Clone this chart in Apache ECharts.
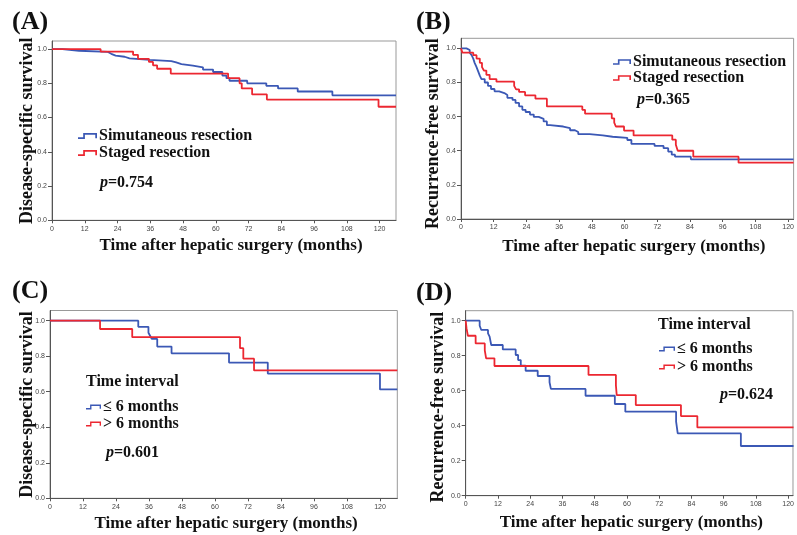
<!DOCTYPE html>
<html>
<head>
<meta charset="utf-8">
<script src="https://cdn.jsdelivr.net/npm/echarts@6/dist/echarts.min.js"></script>
<style>html,body{margin:0;padding:0;background:#fff}#c{width:797px;height:535px}</style>
</head>
<body>
<div id="c"></div>
<script>
// ---- tick labels ----
const xTicks = [0, 12, 24, 36, 48, 60, 72, 84, 96, 108, 120];
const yTicks = [0, 0.2, 0.4, 0.6, 0.8, 1.0];

// ---- legend names ----
const groupNamesAB = ['Simutaneous resection', 'Staged resection'];
const groupNamesCD = ['\u2264 6 months', '> 6 months'];
const pValues = ['0.754', '0.365', '0.601', '0.624'];

// ---- (A) Disease-specific survival, simultaneous vs staged [month, survival] ----
const A_simultaneous = [[0,1],[3.8,0.99],[9.9,0.983],[20.5,0.972],[21.7,0.962],[23.3,0.955],[26.6,0.945],[28.4,0.937],[35.8,0.93],[43.7,0.922],[45.5,0.912],[47.4,0.903],[51.6,0.893],[55.3,0.88],[59,0.866],[62.4,0.845],[63.9,0.83],[65,0.815],[71.5,0.80],[78.5,0.785],[82.8,0.77],[90,0.752],[102.7,0.73],[126,0.73]];
const A_staged = [[0,1],[17.8,0.985],[29.7,0.966],[31.5,0.943],[35.5,0.925],[37,0.905],[38.5,0.885],[43.5,0.857],[64.5,0.83],[68.7,0.80],[69.5,0.77],[73.3,0.735],[78.7,0.705],[119.6,0.663],[126,0.663]];

// ---- (B) Recurrence-free survival ----
const B_simultaneous = [[0,1],[2,0.99],[3.2,0.975],[3.9,0.96],[4.5,0.94],[5,0.915],[5.7,0.89],[6.3,0.865],[6.9,0.84],[7.5,0.82],[8.7,0.80],[9.9,0.78],[11,0.762],[12.3,0.748],[14,0.738],[15.9,0.727],[17,0.71],[18.9,0.698],[20,0.68],[21.3,0.66],[22.5,0.64],[23.7,0.627],[25.3,0.612],[26.7,0.598],[28.5,0.587],[30.3,0.572],[31.5,0.55],[32.7,0.542],[37.5,0.532],[40,0.52],[41.8,0.51],[43,0.497],[47.2,0.49],[52,0.482],[55.6,0.476],[61,0.463],[62.5,0.44],[71,0.428],[74.3,0.415],[76,0.395],[77.3,0.377],[78.5,0.365],[84.3,0.35],[122,0.35]];
const B_staged = [[0,1],[0.5,0.975],[4.5,0.96],[5.7,0.94],[6.9,0.915],[7.7,0.89],[8.4,0.87],[9.3,0.845],[10.5,0.82],[13,0.805],[19.5,0.78],[20.2,0.76],[21.3,0.745],[23.5,0.725],[27.3,0.705],[31.5,0.66],[44.5,0.64],[45.5,0.617],[55.3,0.59],[56.2,0.565],[56.8,0.542],[59.8,0.518],[63.3,0.49],[77.5,0.465],[78.8,0.435],[79.5,0.40],[85.2,0.365],[101.8,0.33],[122,0.33]];

// ---- (C) Disease-specific survival by time interval ----
const C_le6 = [[0,1],[32.1,0.965],[35.8,0.932],[36.4,0.915],[37,0.897],[39,0.854],[44.2,0.816],[65.1,0.764],[79.2,0.702],[120,0.613],[126.3,0.613]];
const C_gt6 = [[0,1],[18.2,0.953],[29.9,0.907],[69.1,0.845],[70.3,0.786],[74.2,0.72],[126.3,0.72]];

// ---- (D) Recurrence-free survival by time interval ----
const D_le6 = [[0,1],[5.2,0.971],[5.8,0.947],[8.3,0.928],[8.9,0.909],[9.5,0.861],[13.8,0.836],[18.6,0.804],[19.5,0.775],[20.5,0.743],[22.3,0.714],[26.8,0.684],[31.2,0.648],[31.7,0.61],[44.6,0.571],[55.5,0.524],[59.4,0.48],[78.3,0.423],[78.9,0.356],[102.4,0.284],[122,0.284]];
const D_gt6 = [[0,1],[0.3,0.957],[0.8,0.914],[3.7,0.87],[7.1,0.83],[7.6,0.785],[10.7,0.741],[45.7,0.69],[55.9,0.63],[56.2,0.575],[63.3,0.518],[80.1,0.455],[86.2,0.39],[122,0.39]];

const BLUE = '#3b58b5', RED = '#ec2731';
const SERIF = '"Liberation Serif", "Times New Roman", serif';
const SANS = '"Liberation Sans", Arial, sans-serif';

const grids = [
  {left: 52, top: 41, width: 344, height: 179.3},
  {left: 461, top: 38.3, width: 338, height: 180.7},
  {left: 50, top: 310.5, width: 347.3, height: 187.8},
  {left: 465.7, top: 310.7, width: 333.3, height: 185}
];
const xMax = [126, 122, 126.3, 121.8];
const yMax = [1.047, 1.059, 1.057, 1.057];
const yNames = ['Disease-specific survival', 'Recurrence-free survival', 'Disease-specific survival', 'Recurrence-free survival'];
const yNameGap = [16, 19, 14, 18];
const yNamePad = [[0,0,0,0],[0,10,0,0],[0,0,0,0],[0,8,0,0]];
const xNamePad = [[0,0,0,14],[0,0,0,13],[0,0,0,5],[0,0,0,4]];
const xNameGap = [17, 19, 17, 18];

const xAxes = grids.map((g, i) => ({
  type: 'value', gridIndex: i, min: 0, max: xMax[i], interval: 12,
  name: 'Time after hepatic surgery (months)', nameLocation: 'middle', nameGap: xNameGap[i],
  nameMoveOverlap: false,
  nameTextStyle: {fontFamily: SERIF, fontWeight: 'bold', fontSize: 17, color: '#111', padding: xNamePad[i]},
  axisLine: {show: true, lineStyle: {color: '#555', width: 1}},
  axisTick: {show: true, length: 3, lineStyle: {color: '#555'}, customValues: xTicks},
  axisLabel: {fontFamily: SANS, fontSize: 7, color: '#444', margin: 5, customValues: xTicks},
  splitLine: {show: false}
}));
const yAxes = grids.map((g, i) => ({
  type: 'value', gridIndex: i, min: 0, max: yMax[i], interval: 0.2,
  name: yNames[i], nameLocation: 'middle', nameGap: yNameGap[i],
  nameMoveOverlap: false,
  nameTextStyle: {fontFamily: SERIF, fontWeight: 'bold', fontSize: 18, color: '#111', padding: yNamePad[i]},
  axisLine: {show: true, lineStyle: {color: '#555', width: 1}},
  axisTick: {show: true, length: 4, lineStyle: {color: '#555'}, customValues: yTicks},
  axisLabel: {fontFamily: SANS, fontSize: 7, color: '#444', margin: 5, customValues: yTicks,
              formatter: v => v.toFixed(1)},
  splitLine: {show: false}
}));

function km(name, data, idx, color) {
  return {type: 'line', name: name, data: data, xAxisIndex: idx, yAxisIndex: idx,
          step: 'end', symbol: 'none', showSymbol: false, clip: true,
          lineStyle: {color: color, width: 1.8}, itemStyle: {color: color}, emphasis: {disabled: true}};
}
const series = [
  km(groupNamesAB[0], A_simultaneous, 0, BLUE), km(groupNamesAB[1], A_staged, 0, RED),
  km(groupNamesAB[0], B_simultaneous, 1, BLUE), km(groupNamesAB[1], B_staged, 1, RED),
  km(groupNamesCD[0], C_le6, 2, BLUE), km(groupNamesCD[1], C_gt6, 2, RED),
  km(groupNamesCD[0], D_le6, 3, BLUE), km(groupNamesCD[1], D_gt6, 3, RED)
];

const ICON = 'path://M0,5 L6,5 L6,0 L22,0 L22,6 L20,6 L20,2 L8,2 L8,7 L0,7 Z';
function legend(names, left, top, w, gap) {
  return {data: names, left: left, top: top, orient: 'vertical', padding: 0, itemGap: gap,
          itemWidth: w, itemHeight: 7, icon: ICON, selectedMode: false,
          itemStyle: {borderWidth: 0},
          textStyle: {fontFamily: SERIF, fontWeight: 'bold', fontSize: 16, color: '#111', padding: [0,0,0,-3]}};
}
const legends = [
  legend(groupNamesAB, 78, 128, 19, 1),
  legend(groupNamesAB, 613, 54, 18, 0),
  legend(groupNamesCD, 86, 399, 15, 1),
  legend(groupNamesCD, 659, 341, 16, 2)
];

function ptext(x, y, val) {
  return {type: 'text', x: x, y: y, style: {
    text: '{i|p}{b|=' + val + '}', verticalAlign: 'middle', fill: '#111',
    rich: {i: {fontFamily: SERIF, fontStyle: 'italic', fontWeight: 'bold', fontSize: 16, fill: '#111'},
           b: {fontFamily: SERIF, fontWeight: 'bold', fontSize: 16, fill: '#111'}}}};
}
function label(x, y, t, size) {
  return {type: 'text', x: x, y: y, style: {text: t, verticalAlign: 'middle',
          fontFamily: SERIF, fontWeight: 'bold', fontSize: size, fill: '#111'}};
}
const graphics = [
  label(12, 22, '(A)', 26), label(416, 22.5, '(B)', 26), label(12, 291, '(C)', 26), label(416, 293, '(D)', 26),
  label(86, 382, 'Time interval', 16), label(658, 325, 'Time interval', 16),
  ptext(100, 183, pValues[0]), ptext(637, 99.5, pValues[1]), ptext(106, 453, pValues[2]), ptext(720, 394.5, pValues[3])
];

const chart = echarts.init(document.getElementById('c'), null, {renderer: 'canvas'});
chart.setOption({
  animation: false,
  backgroundColor: '#fff',
  grid: grids.map(g => Object.assign({show: true, borderColor: '#999', borderWidth: 1, backgroundColor: 'transparent'}, g)),
  xAxis: xAxes,
  yAxis: yAxes,
  legend: legends,
  series: series,
  graphic: graphics
});
</script>
</body>
</html>
